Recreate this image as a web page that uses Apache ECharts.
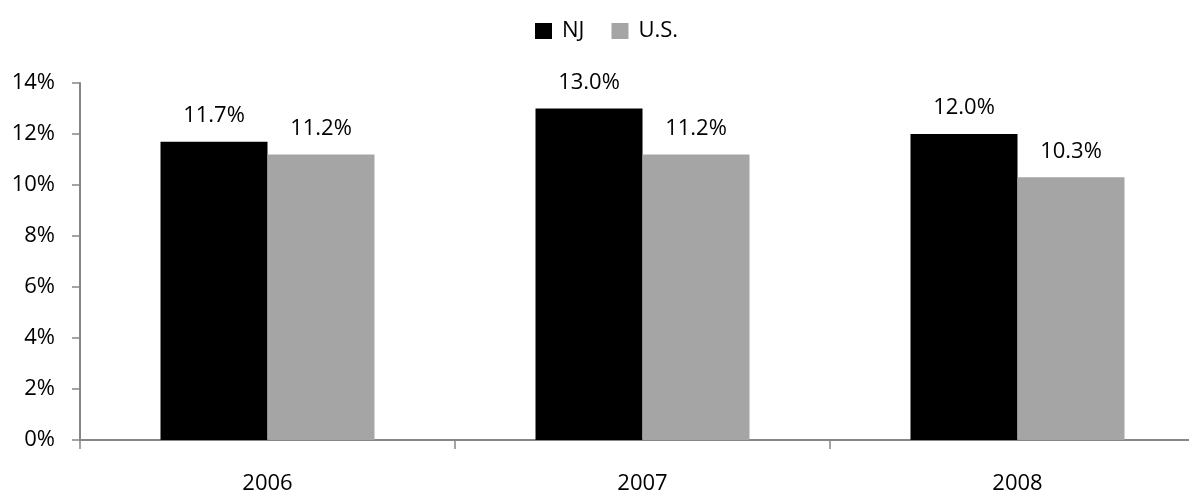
<!DOCTYPE html>
<html>
<head>
<meta charset="utf-8">
<script src="https://cdn.jsdelivr.net/npm/echarts@6/dist/echarts.min.js"></script>
<style>
html,body{margin:0;padding:0;background:#fff;}
#chart{width:1189px;height:497px;}
</style>
</head>
<body>
<div id="chart"></div>
<script>
const years = ['2006', '2007', '2008'];
const njRates = [11.7, 13.0, 12.0];
const usRates = [11.2, 11.2, 10.3];
const yTicks = [0, 2, 4, 6, 8, 10, 12, 14];

const FONT = '"Open Sans", "Noto Sans", sans-serif';
const axisGrey = '#868686';
const pct = p => p.value.toFixed(1) + '%';

const chart = echarts.init(document.getElementById('chart'));
chart.setOption({
  animation: false,
  textStyle: { fontFamily: FONT },
  legend: {
    top: 15,
    left: 530,
    icon: 'rect',
    itemWidth: 17,
    itemHeight: 16,
    itemGap: 27,
    textStyle: { fontSize: 22, color: '#000', fontFamily: FONT, padding: [0, 0, 0, 5] },
    data: ['NJ', 'U.S.']
  },
  // plot runs slightly past the right edge of the page
  grid: { left: 80, width: 1125, top: 83, bottom: 57, outerBoundsMode: 'none', containLabel: false },
  xAxis: {
    type: 'category',
    data: years,
    axisLine: { lineStyle: { color: axisGrey, width: 2 } },
    axisTick: { show: true, length: 9, lineStyle: { color: axisGrey, width: 1.5 } },
    axisLabel: { fontSize: 22, color: '#000', margin: 33, fontFamily: FONT }
  },
  yAxis: {
    type: 'value',
    min: yTicks[0],
    max: yTicks[yTicks.length - 1],
    interval: 2,
    splitLine: { show: false },
    axisLine: { show: true, lineStyle: { color: axisGrey, width: 2 } },
    axisTick: { show: true, length: 8, lineStyle: { color: axisGrey, width: 1.5 } },
    axisLabel: { fontSize: 22, color: '#000', margin: 25, formatter: v => v + '%', fontFamily: FONT }
  },
  series: [
    {
      name: 'NJ',
      type: 'bar',
      data: njRates,
      barWidth: 107,
      barGap: '0%',
      itemStyle: { color: '#000000' },
      label: { show: true, position: 'top', distance: 15, fontSize: 22, color: '#000', formatter: pct, fontFamily: FONT }
    },
    {
      name: 'U.S.',
      type: 'bar',
      data: usRates,
      barWidth: 107,
      barGap: '0%',
      itemStyle: { color: '#a5a5a5' },
      label: { show: true, position: 'top', distance: 15, fontSize: 22, color: '#000', formatter: pct, fontFamily: FONT }
    }
  ]
});
</script>
</body>
</html>
